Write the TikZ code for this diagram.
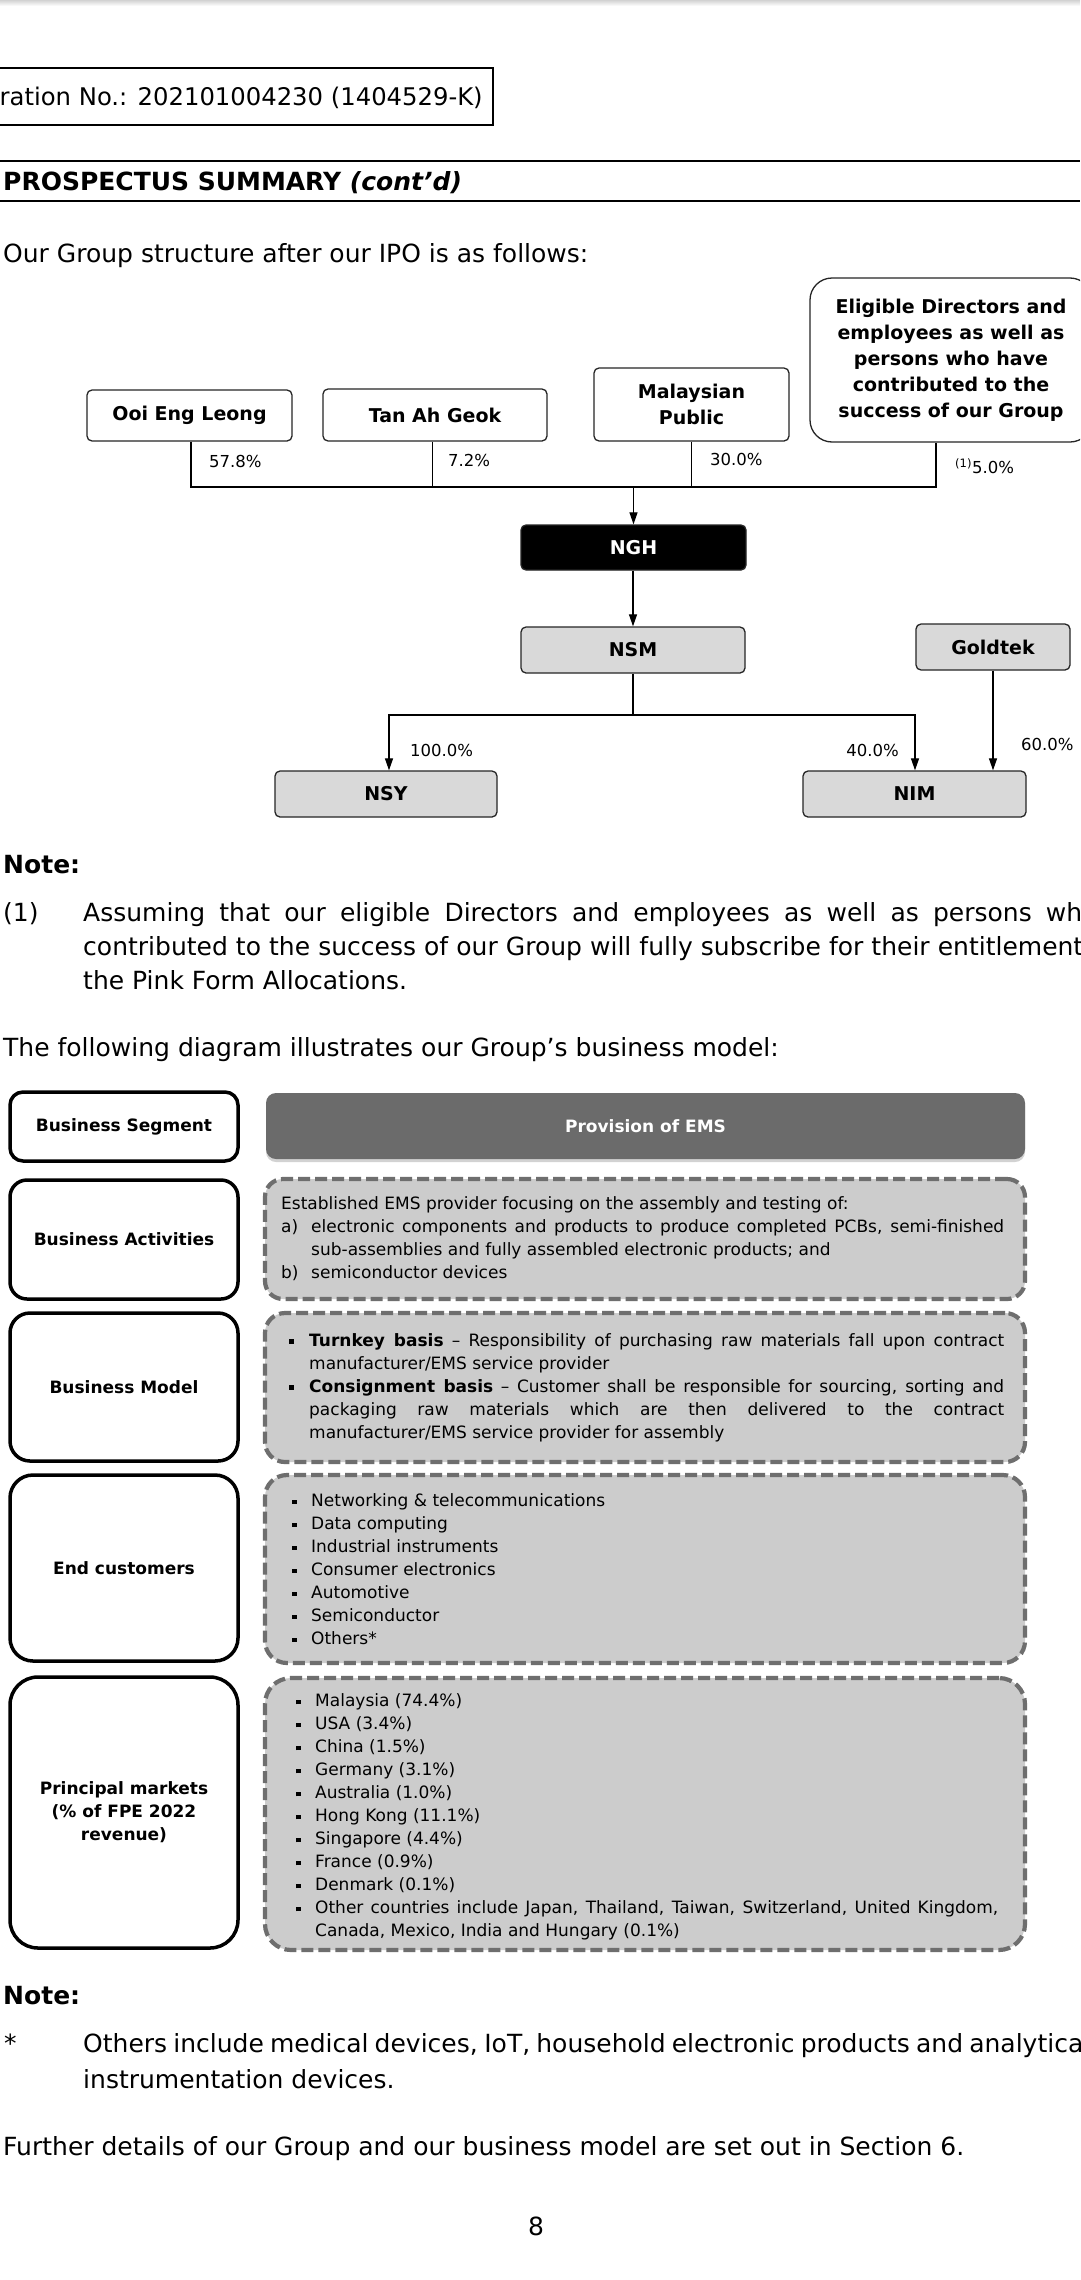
\documentclass[tikz,border=0pt]{standalone}
\usepackage{fontspec}
\setmainfont{DejaVu Sans}
\usetikzlibrary{arrows.meta,shadows}
\definecolor{orggray}{HTML}{D9D9D9}
\definecolor{provgray}{HTML}{6B6B6B}
\definecolor{dashgray}{HTML}{6E6E6E}
\definecolor{boxgray}{HTML}{CCCCCC}
\newcommand{\fntbody}{\fontsize{25}{34}\selectfont}
\newcommand{\fntreg}{\fontsize{24.3}{34}\selectfont}
\newcommand{\fntorg}{\fontsize{19}{26}\selectfont\bfseries}
\newcommand{\fntpct}{\fontsize{16.5}{20}\selectfont}
\newcommand{\fntbx}{\fontsize{17}{23}\selectfont}
\newcommand{\fntlab}{\fontsize{17}{23}\selectfont\bfseries}
\newcommand{\bulsq}{\rule[0.14em]{0.26em}{0.26em}}
\tikzset{
  body/.style={font=\fntbody, inner sep=0pt},
  bodyb/.style={font=\fntbody\bfseries, inner sep=0pt},
  orgbox/.style={draw=black!85, line width=1.3pt, rounded corners=5pt, inner sep=0pt, align=center, font=\fntorg},
  graybox/.style={orgbox, fill=orggray},
  orgline/.style={line width=1.2pt, draw=black},
  orgarrow/.style={orgline, -{Triangle[length=12pt,width=8pt]}},
  pct/.style={font=\fntpct, inner sep=0pt},
  lbox/.style={draw=black, line width=3.5pt, fill=white, inner sep=0pt, align=center, font=\fntlab, minimum width=228pt},
  dbox/.style={draw=dashgray, line width=4.2pt, dash pattern=on 12pt off 5pt, fill=boxgray, inner sep=0pt, minimum width=760pt},
  btext/.style={font=\fntbx, inner sep=0pt, align=left, anchor=west},
}
\begin{document}
\begin{tikzpicture}[x=1pt,y=-1pt]
\useasboundingbox (0,0) rectangle (1080,2280);
\clip (0,0) rectangle (1080,2280);
\fill[white] (0,0) rectangle (1080,2280);
\shade[top color=gray!35,bottom color=white] (0,0) rectangle (1080,6);

% header
\node[draw=black, line width=2pt, minimum width=500pt, minimum height=57pt, inner sep=0pt] (regbox) at (243,96.5) {};
\node[font=\fntreg, inner sep=0pt, anchor=base east] (regtxt) at (483,106) {ration No.: 202101004230 (1404529-K)};
\draw[line width=2pt] (0,161) -- (1080,161);
\draw[line width=2pt] (0,200.5) -- (1080,200.5);
\node[bodyb, anchor=base west] (title) at (3,190) {PROSPECTUS SUMMARY \textit{(cont’d)}};
\node[body, anchor=base west] (intro1) at (3,262) {Our Group structure after our IPO is as follows:};

% org chart
\node[orgbox, minimum width=205pt, minimum height=51pt] (ooi) at (189.5,415.5) {Ooi Eng Leong};
\node[orgbox, minimum width=224pt, minimum height=52pt] (tan) at (435,415) {Tan Ah Geok};
\node[orgbox, minimum width=195pt, minimum height=73pt] (mal) at (691.5,404.5) {Malaysian\\Public};
\node[orgbox, rounded corners=22pt, minimum width=282pt, minimum height=164pt] (eli) at (951,360) {Eligible Directors and\\employees as well as\\persons who have\\contributed to the\\success of our Group};
\node[orgbox, fill=black, text=white, minimum width=225pt, minimum height=45pt] (ngh) at (633.5,547.5) {NGH};
\node[graybox, minimum width=224pt, minimum height=46pt] (nsm) at (633,650) {NSM};
\node[graybox, minimum width=154pt, minimum height=46pt] (gold) at (993,647) {Goldtek};
\node[graybox, minimum width=222pt, minimum height=46pt] (nsy) at (386,794) {NSY};
\node[graybox, minimum width=223pt, minimum height=46pt] (nim) at (914.5,794) {NIM};

\coordinate (j1) at (191,487);
\coordinate (j2) at (432.5,487);
\coordinate (j3) at (691.5,487);
\coordinate (j4) at (936,487);
\coordinate (jc) at (633.5,487);
\draw[orgline] (ooi.south -| j1) -- (j1) -- (j4) -- (eli.south -| j4);
\draw[orgline] (tan.south -| j2) -- (j2);
\draw[orgline] (mal.south -| j3) -- (j3);
\draw[orgarrow] (jc) -- (ngh.north);
\draw[orgarrow] (ngh.south -| nsm.north) -- (nsm.north);
\coordinate (k0) at (633,715);
\coordinate (k1) at (389,715);
\coordinate (k2) at (915,715);
\draw[orgline] (nsm.south) -- (k0);
\draw[orgarrow] (k2) -- (k1) -- (k1 |- nsy.north);
\draw[orgarrow] (k1) -- (k2) -- (k2 |- nim.north);
\draw[orgarrow] (gold.south) -- (gold.south |- nim.north);

\node[pct, anchor=west] (p1) at (209,461) {57.8\%};
\node[pct, anchor=west] (p2) at (448,460) {7.2\%};
\node[pct, anchor=west] (p3) at (710,459) {30.0\%};
\node[pct, anchor=west] (p4) at (955,466) {\textsuperscript{(1)}5.0\%};
\node[pct, anchor=west] (p5) at (410,750) {100.0\%};
\node[pct, anchor=east] (p6) at (899,750) {40.0\%};
\node[pct, anchor=west] (p7) at (1021,744) {60.0\%};

% note 1
\node[bodyb, anchor=base west] (note1) at (3,873) {Note:};
\node[body, anchor=base west] (n1m) at (3,921) {(1)};
\node[body, anchor=base west] (n1a) at (83,921) {\makebox[999pt][s]{Assuming that our eligible Directors and employees as well as persons wh}};
\node[body, anchor=base west] (n1b) at (83,955) {\makebox[1000pt][s]{contributed to the success of our Group will fully subscribe for their entitlement}};
\node[body, anchor=base west] (n1c) at (83,989) {the Pink Form Allocations.};
\node[body, anchor=base west] (intro2) at (3,1056) {The following diagram illustrates our Group’s business model:};

% business model table
\node[lbox, rounded corners=13pt, minimum height=69pt] (l1) at (124,1126.5) {Business Segment};
\node[lbox, rounded corners=17pt, minimum height=119pt] (l2) at (124,1239.5) {Business Activities};
\node[lbox, rounded corners=20pt, minimum height=148pt] (l3) at (124,1387) {Business Model};
\node[lbox, rounded corners=23pt, minimum height=186pt] (l4) at (124,1568) {End customers};
\node[lbox, rounded corners=28pt, minimum height=271pt] (l5) at (124,1812.5) {Principal markets\\(\% of FPE 2022\\revenue)};

\node[fill=provgray, rounded corners=10pt, minimum width=759pt, minimum height=66pt, inner sep=0pt, drop shadow={opacity=0.35, shadow xshift=0pt, shadow yshift=-3pt}, text=white, font=\fntlab] (prov) at (645.5,1126) {Provision of EMS};
\node[dbox, rounded corners=18pt, minimum height=120pt] (r2) at (645,1239) {};
\node[dbox, rounded corners=20pt, minimum height=149pt] (r3) at (645,1387.5) {};
\node[dbox, rounded corners=22pt, minimum height=188pt] (r4) at (645,1569) {};
\node[dbox, rounded corners=26pt, minimum height=272pt] (r5) at (645,1814) {};

\node[btext] (t2) at (281,1239) {Established EMS provider focusing on the assembly and testing of:\\
\makebox[30pt][l]{a)}\makebox[693pt][s]{electronic components and products to produce completed PCBs, semi-finished}\\
\hspace*{30pt}sub-assemblies and fully assembled electronic products; and\\
\makebox[30pt][l]{b)}semiconductor devices};

\node[btext] (t3) at (289,1387.5) {\makebox[20pt][l]{\bulsq}\makebox[695pt][s]{\textbf{Turnkey basis} – Responsibility of purchasing raw materials fall upon contract}\\
\hspace*{20pt}manufacturer/EMS service provider\\
\makebox[20pt][l]{\bulsq}\makebox[695pt][s]{\textbf{Consignment basis} – Customer shall be responsible for sourcing, sorting and}\\
\hspace*{20pt}\makebox[695pt][s]{packaging raw materials which are then delivered to the contract}\\
\hspace*{20pt}manufacturer/EMS service provider for assembly};

\node[btext] (t4) at (292,1569) {\makebox[19pt][l]{\bulsq}Networking \& telecommunications\\
\makebox[19pt][l]{\bulsq}Data computing\\
\makebox[19pt][l]{\bulsq}Industrial instruments\\
\makebox[19pt][l]{\bulsq}Consumer electronics\\
\makebox[19pt][l]{\bulsq}Automotive\\
\makebox[19pt][l]{\bulsq}Semiconductor\\
\makebox[19pt][l]{\bulsq}Others*};

\node[btext] (t5) at (296,1817) {\makebox[19pt][l]{\bulsq}Malaysia (74.4\%)\\
\makebox[19pt][l]{\bulsq}USA (3.4\%)\\
\makebox[19pt][l]{\bulsq}China (1.5\%)\\
\makebox[19pt][l]{\bulsq}Germany (3.1\%)\\
\makebox[19pt][l]{\bulsq}Australia (1.0\%)\\
\makebox[19pt][l]{\bulsq}Hong Kong (11.1\%)\\
\makebox[19pt][l]{\bulsq}Singapore (4.4\%)\\
\makebox[19pt][l]{\bulsq}France (0.9\%)\\
\makebox[19pt][l]{\bulsq}Denmark (0.1\%)\\
\makebox[19pt][l]{\bulsq}\makebox[683pt][s]{Other countries include Japan, Thailand, Taiwan, Switzerland, United Kingdom,}\\
\hspace*{19pt}Canada, Mexico, India and Hungary (0.1\%)};

% note 2
\node[bodyb, anchor=base west] (note2) at (3,2004) {Note:};
\node[body, anchor=base west] (n2m) at (4,2052) {*};
\node[body, anchor=base west] (n2a) at (83,2052) {\makebox[1000pt][s]{Others include medical devices, IoT, household electronic products and analytica}};
\node[body, anchor=base west] (n2b) at (83,2088) {instrumentation devices.};
\node[body, anchor=base west] (further) at (3,2155) {Further details of our Group and our business model are set out in Section 6.};
\node[body, anchor=base] (pageno) at (536,2235) {8};
\end{tikzpicture}
\end{document}
